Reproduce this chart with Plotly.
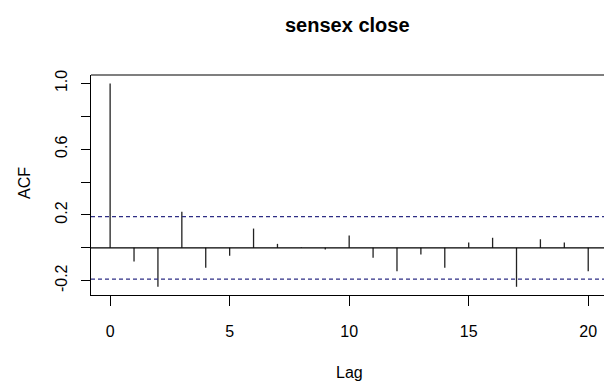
import plotly.graph_objects as go

title = "sensex close"
lags = list(range(21))
acf = [1.0, -0.083, -0.237, 0.219, -0.122, -0.049, 0.117, 0.024, 0.003, -0.010,
       0.075, -0.061, -0.142, -0.041, -0.122, 0.032, 0.061, -0.237, 0.052, 0.032, -0.142]
ci = 0.19
xtick_vals = [0, 5, 10, 15, 20]
ytick_vals = [-0.2, 0.0, 0.2, 0.4, 0.6, 0.8, 1.0]
ytick_text = ["-0.2", "", "0.2", "", "0.6", "", "1.0"]

FONT = "Liberation Sans, Arial, sans-serif"

xs, ys = [], []
for l, a in zip(lags, acf):
    xs += [l, l, None]
    ys += [0, a, None]

fig = go.Figure()
fig.add_trace(go.Scatter(x=xs, y=ys, mode="lines",
                         line=dict(color="#222222", width=1.3),
                         hoverinfo="skip", showlegend=False))

xr = [-0.8, 20.66]
yr = [-0.287, 1.051]

# zero line and confidence bounds
fig.add_shape(type="line", xref="paper", yref="y", x0=0, x1=1, y0=0, y1=0,
              line=dict(color="black", width=1.2))
for c in (ci, -ci):
    fig.add_shape(type="line", xref="paper", yref="y", x0=0, x1=1, y0=c, y1=c,
                  line=dict(color="#2e2e85", width=1.3, dash="4px,3px"))
# top border of box
fig.add_shape(type="line", xref="paper", yref="paper", x0=0, x1=1, y0=1, y1=1,
              line=dict(color="black", width=1.2))

W, H = 604, 385
L, T, B = 91, 75, 90
pw = W - L

fig.update_layout(
    width=W, height=H,
    margin=dict(l=L, r=0, t=T, b=B, autoexpand=False),
    paper_bgcolor="white", plot_bgcolor="white",
    font=dict(family=FONT, color="black", size=16),
    showlegend=False,
    xaxis=dict(range=xr, tickvals=xtick_vals, ticks="outside", ticklen=10,
               tickwidth=1.2, tickcolor="black", showline=True, linecolor="black",
               linewidth=1.2, showgrid=False, zeroline=False, automargin=False,
               tickfont=dict(size=16, family=FONT), ticklabelstandoff=12),
    yaxis=dict(range=yr, tickvals=ytick_vals, ticktext=ytick_text, ticks="outside",
               ticklen=9, tickwidth=1.2, tickcolor="black", showline=True,
               linecolor="black", linewidth=1.2, showgrid=False, zeroline=False,
               automargin=False, tickangle=-90, tickfont=dict(size=16, family=FONT),
               ticklabelstandoff=8),
    annotations=[
        dict(text="<b>" + title + "</b>", xref="paper", yref="paper",
             x=(347 - L) / pw, y=1, yshift=50, showarrow=False,
             font=dict(size=20, family=FONT), xanchor="center", yanchor="middle"),
        dict(text="Lag", xref="paper", yref="paper", x=(349 - L) / pw, y=0,
             yshift=-77, showarrow=False, font=dict(size=16, family=FONT),
             xanchor="center", yanchor="middle"),
        dict(text="ACF", xref="paper", yref="paper", x=0, xshift=-67,
             y=(220 - (183 - 75)) / 220, showarrow=False, textangle=-90,
             font=dict(size=16, family=FONT), xanchor="center", yanchor="middle"),
    ],
)

fig.write_html("out.html",
               config={"displayModeBar": False},
               post_script="document.body.style.margin='0';"
                           "document.body.style.overflow='hidden';")
